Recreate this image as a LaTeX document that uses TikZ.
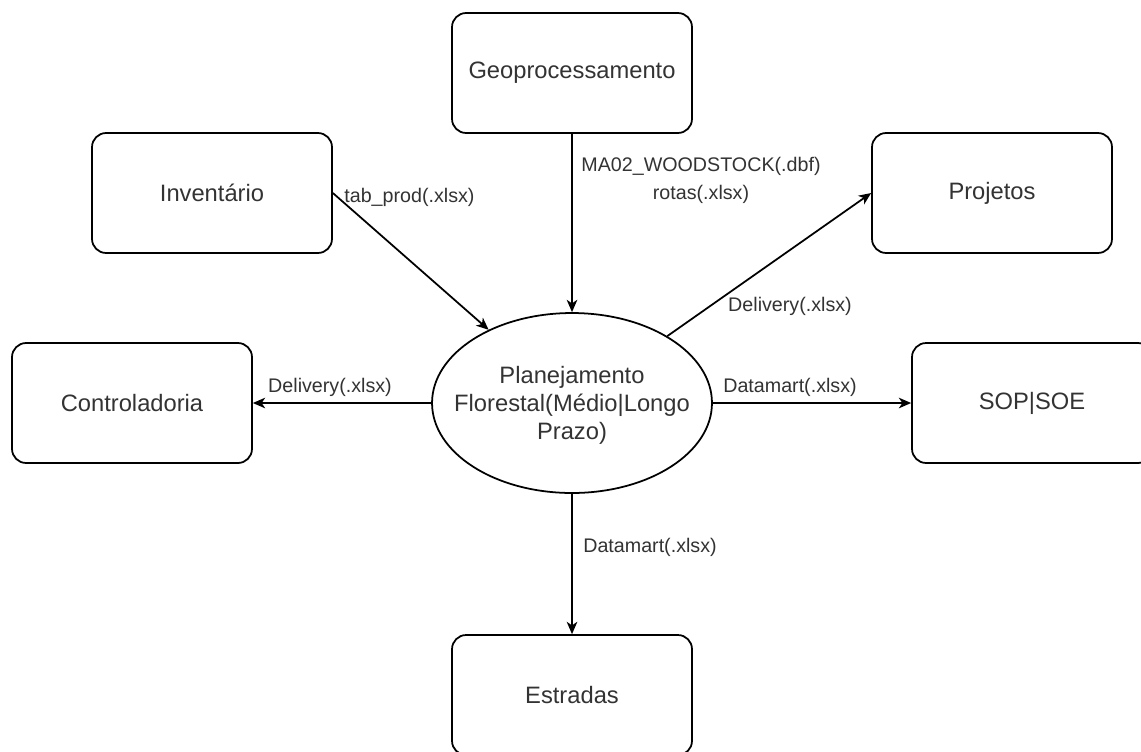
\documentclass[tikz,border=0pt]{standalone}
\usepackage{fontspec}
\setmainfont{Liberation Sans}
\usetikzlibrary{shapes.geometric,arrows.meta}
\definecolor{txt}{HTML}{333333}
\begin{document}
\begin{tikzpicture}[x=0.02cm,y=-0.02cm,
  box/.style={draw=black, line width=1pt, rounded corners=8pt, minimum width=4.8cm, minimum height=2.4cm, inner sep=0pt, text=txt, font=\fontsize{13.5}{16}\selectfont},
  ellbox/.style={ellipse, draw=black, line width=1pt, minimum width=5.6cm, minimum height=3.6cm, inner sep=0pt},
  elltext/.style={align=center, text=txt, inner sep=0pt, font=\fontsize{13.5}{16}\selectfont},
  lbl/.style={text=txt, font=\fontsize{11.2}{16}\selectfont, inner sep=0pt},
  arr/.style={draw=black, line width=1pt, -{Stealth[length=7pt,width=6pt,inset=2pt]}}]
\useasboundingbox (0,0) rectangle (1141,751);
\clip (0,0) rectangle (1141,751);
\fill[white] (0,0) rectangle (1141,751);

\node[box] (geo) at (572,73) {Geoprocessamento};
\node[box] (inv) at (212,193) {Inventário};
\node[box] (proj) at (992,193) {Projetos};
\node[box] (ctrl) at (132,403) {Controladoria};
\node[box] (sop) at (1032,403) {SOP|SOE};
\node[box] (estr) at (572,695) {Estradas};
\node[ellbox] (pf) at (572,403) {};
\node[elltext] (pft) at (572,405) {Planejamento\\Florestal(Médio|Longo\\Prazo)};

\draw[arr] (geo) -- (pf);
\draw[arr] (inv.east) -- (pf);
\draw[arr] (pf) -- (proj.west);
\draw[arr] (pf) -- (sop);
\draw[arr] (pf) -- (ctrl);
\draw[arr] (pf) -- (estr);

\node[lbl, anchor=west] (l1) at (344,197) {tab\_prod(.xlsx)};
\node[lbl, align=center] (l2) at (701,180) {MA02\_WOODSTOCK(.dbf)\\rotas(.xlsx)};
\node[lbl] (l3) at (790,306) {Delivery(.xlsx)};
\node[lbl] (l4) at (790,387) {Datamart(.xlsx)};
\node[lbl] (l5) at (650,547) {Datamart(.xlsx)};
\node[lbl] (l6) at (330,387) {Delivery(.xlsx)};
\end{tikzpicture}
\end{document}
